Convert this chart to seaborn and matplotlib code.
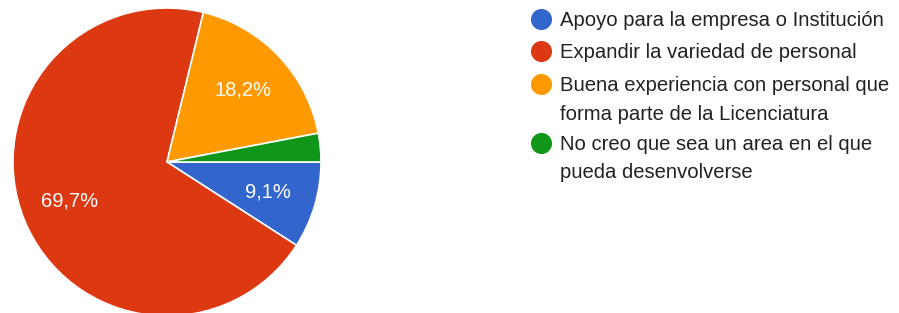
import matplotlib
matplotlib.use("Agg")
import matplotlib.pyplot as plt
import seaborn as sns

# Data
labels = [
    "Apoyo para la empresa o Institución",
    "Expandir la variedad de personal",
    "Buena experiencia con personal que\nforma parte de la Licenciatura",
    "No creo que sea un area en el que\npueda desenvolverse",
]
values = [9.1, 69.7, 18.2, 3.0]
colors = ["#3366cc", "#dc3912", "#ff9900", "#109618"]

sns.set_style("white")
plt.rcParams["font.family"] = ["Liberation Sans", "DejaVu Sans"]

fig = plt.figure(figsize=(8.99, 3.13), dpi=100)
ax = fig.add_axes([0, 0, 1, 1])


def fmt(p):
    return f"{p:.1f}%".replace(".", ",") if p > 5 else ""


ax.pie(values, colors=colors, startangle=0, counterclock=False,
       center=(167, 151), radius=154, autopct=fmt, pctdistance=0.68,
       wedgeprops=dict(edgecolor="white", linewidth=1.2),
       textprops=dict(color="white", fontsize=14.5))
ax.set_xlim(0, 899)
ax.set_ylim(0, 313)
ax.set_aspect("equal")
ax.axis("off")

# legend
marker_y = [294, 262, 229, 170]
line_pitch = 29
for lab, col, y in zip(labels, colors, marker_y):
    ax.scatter([540.5], [y], s=230, color=col, zorder=5, clip_on=False,
               linewidths=0)
    nlines = lab.count("\n") + 1
    ax.text(560, y - 6.5 - line_pitch * (nlines - 1), lab, fontsize=14.6,
            color="#222222", va="baseline", linespacing=1.63)

fig.savefig("out.png", dpi=100)
